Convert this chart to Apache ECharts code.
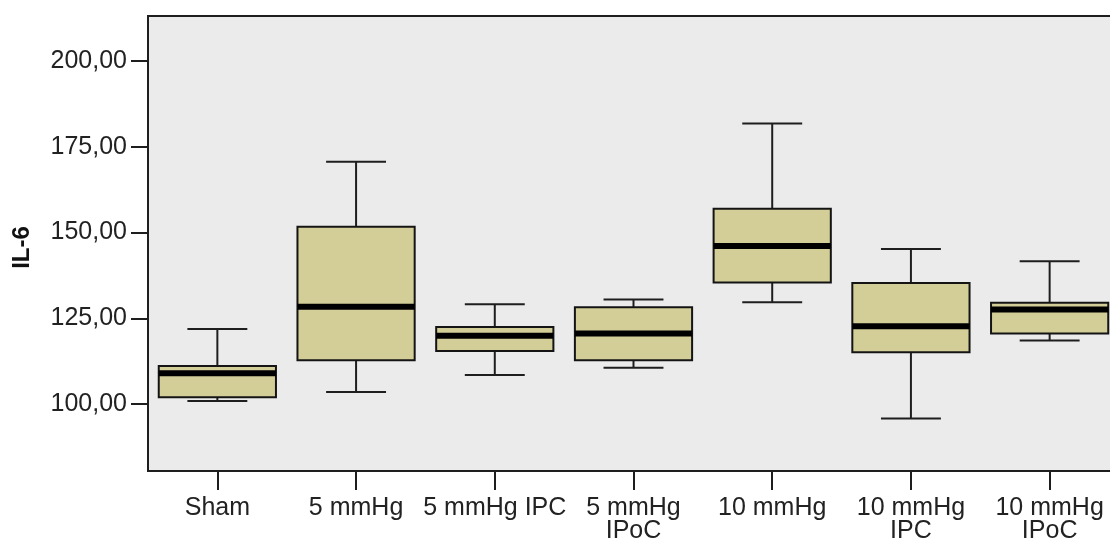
<!DOCTYPE html>
<html>
<head>
<meta charset="utf-8">
<script src="https://cdn.jsdelivr.net/npm/echarts@6/dist/echarts.min.js"></script>
<style>
  html, body { margin: 0; padding: 0; background: #fff; }
  #chart { width: 1110px; height: 540px; }
</style>
</head>
<body>
<div id="chart"></div>
<script>
// groups and five-number summaries
var groups = ['Sham', '5 mmHg', '5 mmHg IPC', '5 mmHg\nIPoC', '10 mmHg', '10 mmHg\nIPC', '10 mmHg\nIPoC'];
var whiskerLow  = [100.9, 103.5, 108.5, 110.6, 129.7,  95.8, 118.5];
var quartile1   = [102.0, 112.8, 115.5, 112.8, 135.4, 115.1, 120.6];
var medians     = [109.0, 128.4, 119.9, 120.6, 146.1, 122.7, 127.6];
var quartile3   = [111.1, 151.7, 122.5, 128.2, 156.9, 135.3, 129.5];
var whiskerHigh = [121.9, 170.6, 129.1, 130.5, 181.8, 145.2, 141.6];
var yTicks = [100, 125, 150, 175, 200];

var boxData = groups.map(function (g, i) {
  return [i, whiskerLow[i], quartile1[i], medians[i], quartile3[i], whiskerHigh[i]];
});

var chart = echarts.init(document.getElementById('chart'));

function renderBox(params, api) {
  var i = api.value(0);
  var band = api.size([1, 0])[0];
  var bw = band * 0.845, cw = band * 0.432;
  var cx = api.coord([i, 0])[0];
  var y = function (k) { return api.coord([i, api.value(k)])[1]; };
  var stroke = { stroke: '#1e1e1e', lineWidth: 2 };
  return {
    type: 'group',
    children: [
      { type: 'line', shape: { x1: cx, y1: y(5), x2: cx, y2: y(4) }, style: stroke },
      { type: 'line', shape: { x1: cx, y1: y(2), x2: cx, y2: y(1) }, style: stroke },
      { type: 'line', shape: { x1: cx - cw / 2, y1: y(5), x2: cx + cw / 2, y2: y(5) }, style: stroke },
      { type: 'line', shape: { x1: cx - cw / 2, y1: y(1), x2: cx + cw / 2, y2: y(1) }, style: stroke },
      { type: 'rect', shape: { x: cx - bw / 2, y: y(4), width: bw, height: y(2) - y(4) },
        style: { fill: '#D3CE97', stroke: '#141414', lineWidth: 2 } },
      { type: 'line', shape: { x1: cx - bw / 2, y1: y(3), x2: cx + bw / 2, y2: y(3) },
        style: { stroke: '#000', lineWidth: 6 } }
    ]
  };
}

chart.setOption({
  animation: false,
  backgroundColor: '#fff',
  grid: {
    left: 148, top: 16, width: 971, height: 455,
    show: true, backgroundColor: '#EBEBEB', borderColor: '#1e1e1e', borderWidth: 2,
    containLabel: false, outerBoundsMode: 'none'
  },
  xAxis: {
    type: 'category',
    data: groups,
    boundaryGap: true,
    axisLine: { show: true, lineStyle: { color: '#1e1e1e', width: 2 } },
    axisTick: { show: true, inside: false, alignWithLabel: true, interval: 0, length: 19, lineStyle: { color: '#1e1e1e', width: 2 } },
    axisLabel: {
      interval: 0, margin: 26, fontSize: 25, lineHeight: 23,
      fontFamily: 'Liberation Sans', color: '#222'
    },
    splitLine: { show: false }
  },
  yAxis: {
    type: 'value',
    min: 80.5, max: 213.1,
    name: 'IL-6', nameLocation: 'middle', nameGap: 114,
    nameTextStyle: { fontSize: 24, fontWeight: 'bold', fontFamily: 'Liberation Sans', color: '#111', padding: [0, 8, 0, 0] },
    axisLine: { show: true, lineStyle: { color: '#1e1e1e', width: 2 } },
    axisTick: { show: true, length: 17, customValues: yTicks, lineStyle: { color: '#1e1e1e', width: 2 } },
    axisLabel: {
      customValues: yTicks, margin: 21, fontSize: 25,
      fontFamily: 'Liberation Sans', color: '#222',
      formatter: function (v) { return v.toFixed(2).replace('.', ','); }
    },
    splitLine: { show: false }
  },
  series: [{
    type: 'custom',
    renderItem: renderBox,
    encode: { x: 0, y: [1, 2, 3, 4, 5] },
    data: boxData
  }]
});
</script>
</body>
</html>
